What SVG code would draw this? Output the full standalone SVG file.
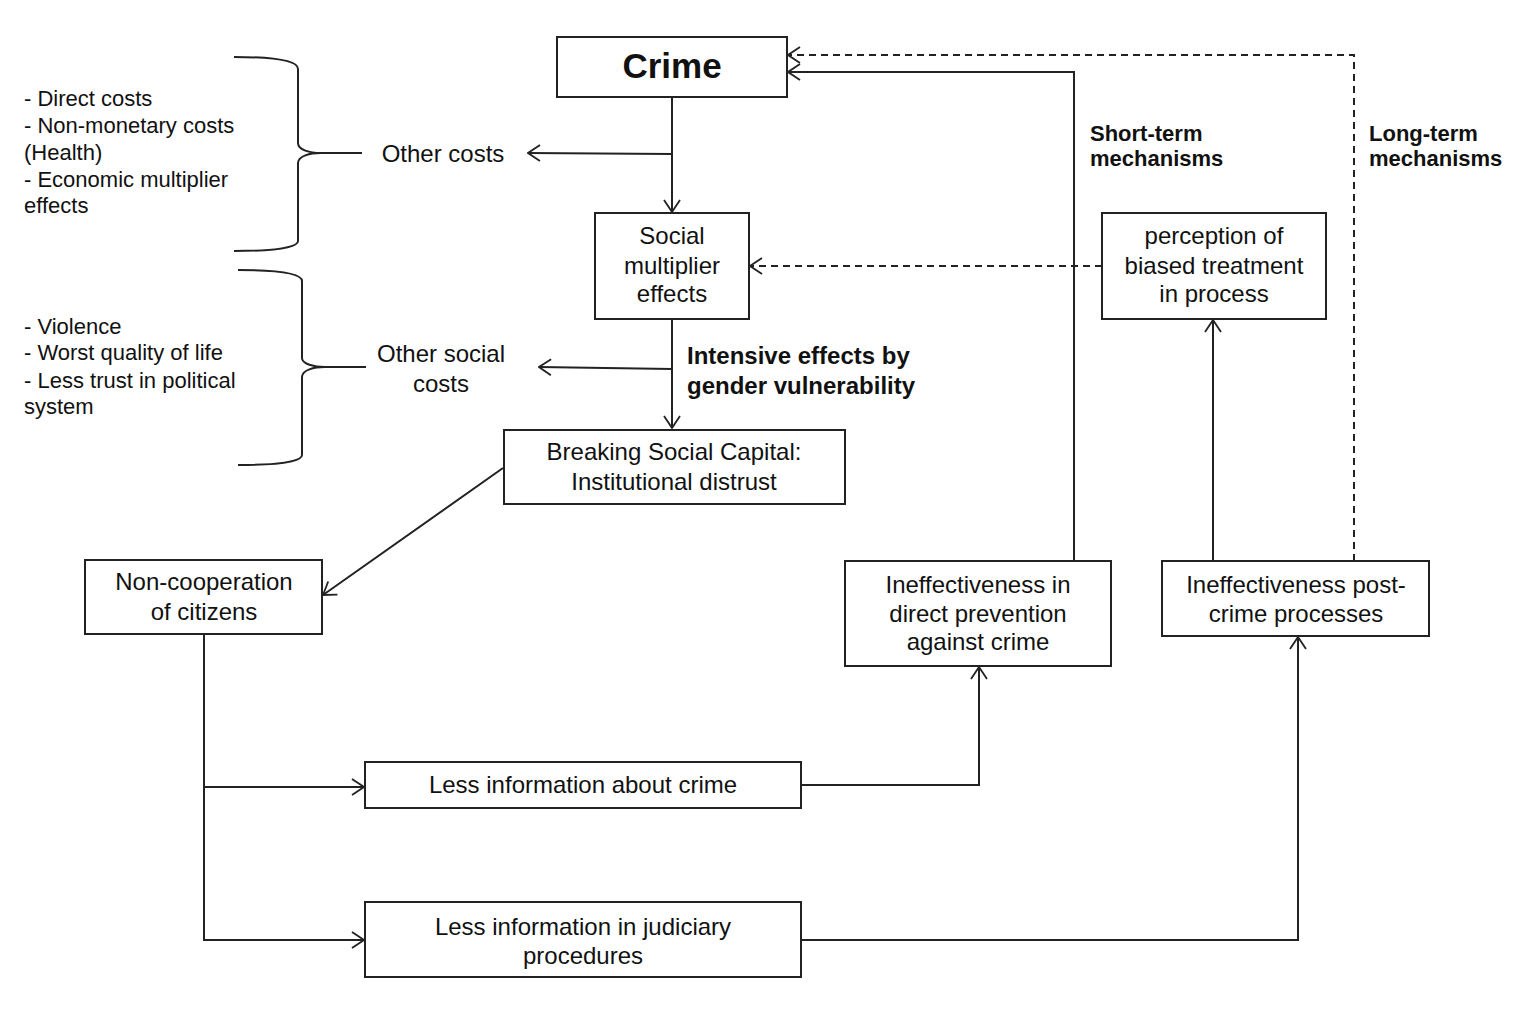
<svg xmlns="http://www.w3.org/2000/svg" width="1540" height="1012" viewBox="0 0 1540 1012">
<style>
.box{fill:#fff;stroke:#222;stroke-width:2}
.t{font-family:"Liberation Sans",Arial,sans-serif;font-size:24px;fill:#111;text-anchor:middle}
.l{font-family:"Liberation Sans",Arial,sans-serif;font-size:22px;fill:#111}
.b{font-family:"Liberation Sans",Arial,sans-serif;font-weight:bold;fill:#111}
.c{fill:none;stroke:#222;stroke-width:2}
.d{fill:none;stroke:#222;stroke-width:2;stroke-dasharray:7 5}
</style>
<defs>
<marker id="arr" viewBox="0 0 14 18" refX="13" refY="9" markerWidth="14" markerHeight="18" markerUnits="userSpaceOnUse" orient="auto">
<path d="M1,1 L13,9 L1,17" fill="none" stroke="#222" stroke-width="1.8"/>
</marker>
</defs>
<rect width="1540" height="1012" fill="#fff"/>

<g id="connectors">
<path class="c" d="M672,97 L672,212" marker-end="url(#arr)"/>
<path class="c" d="M672,154 L528,153" marker-end="url(#arr)"/>
<path class="c" d="M672,319 L672,428" marker-end="url(#arr)"/>
<path class="c" d="M672,369 L539,367" marker-end="url(#arr)"/>
<path class="c" d="M503,468 L323,595" marker-end="url(#arr)"/>
<path class="c" d="M204,634 L204,940 L364,940" marker-end="url(#arr)"/>
<path class="c" d="M204,787 L364,787" marker-end="url(#arr)"/>
<path class="c" d="M801,785 L979,785 L979,667" marker-end="url(#arr)"/>
<path class="c" d="M801,940 L1298,940 L1298,637" marker-end="url(#arr)"/>
<path class="c" d="M1074,561 L1074,72 L788,72" marker-end="url(#arr)"/>
<path class="c" d="M1213,561 L1213,320" marker-end="url(#arr)"/>
<path class="d" d="M1354,561 L1354,55 L788,55" marker-end="url(#arr)"/>
<path class="d" d="M1102,266 L750,266" marker-end="url(#arr)"/>
</g>

<g id="brace-costs">
<path class="c" d="M234,57 C272,57 298,60 298,69 L298,143 C298,150 310,153 321,153 L362,153 M321,153 C310,153 298,156 298,163 L298,241 C298,248 272,251 234,251"/>
<text class="l" x="24" y="106">- Direct costs</text>
<text class="l" x="24" y="133">- Non-monetary costs</text>
<text class="l" x="24" y="160">(Health)</text>
<text class="l" x="24" y="187">- Economic multiplier</text>
<text class="l" x="24" y="213">effects</text>
</g>
<g id="brace-social">
<path class="c" d="M238,270 C276,270 302,273 302,281 L302,358 C302,364 314,367 325,367 L366,367 M325,367 C314,367 302,370 302,377 L302,455 C302,462 276,465 238,465"/>
<text class="l" x="24" y="334">- Violence</text>
<text class="l" x="24" y="360">- Worst quality of life</text>
<text class="l" x="24" y="388">- Less trust in political</text>
<text class="l" x="24" y="414">system</text>
</g>

<g id="other-costs"><text class="t" x="443" y="162">Other costs</text></g>
<g id="other-social-costs"><text class="t" x="441" y="362">Other social</text><text class="t" x="441" y="392">costs</text></g>

<g id="crime"><rect class="box" x="557" y="37" width="230" height="60"/><text class="b" x="672" y="78" font-size="35" text-anchor="middle">Crime</text></g>
<g id="social-multiplier"><rect class="box" x="595" y="213" width="154" height="106"/><text class="t" x="672" y="244">Social</text><text class="t" x="672" y="274">multiplier</text><text class="t" x="672" y="302">effects</text></g>
<g id="intensive-label"><text class="b" x="687" y="364" font-size="24">Intensive effects by</text><text class="b" x="687" y="394" font-size="24">gender vulnerability</text></g>
<g id="breaking"><rect class="box" x="504" y="430" width="341" height="74"/><text class="t" x="674" y="460">Breaking Social Capital:</text><text class="t" x="674" y="490">Institutional distrust</text></g>
<g id="perception"><rect class="box" x="1102" y="213" width="224" height="106"/><text class="t" x="1214" y="244">perception of</text><text class="t" x="1214" y="274">biased treatment</text><text class="t" x="1214" y="302">in process</text></g>
<g id="short-term"><text class="b" x="1090" y="141" font-size="22">Short-term</text><text class="b" x="1090" y="166" font-size="22">mechanisms</text></g>
<g id="long-term"><text class="b" x="1369" y="141" font-size="22">Long-term</text><text class="b" x="1369" y="166" font-size="22">mechanisms</text></g>
<g id="non-cooperation"><rect class="box" x="85" y="560" width="237" height="74"/><text class="t" x="204" y="590">Non-cooperation</text><text class="t" x="204" y="620">of citizens</text></g>
<g id="ineff-direct"><rect class="box" x="845" y="561" width="266" height="105"/><text class="t" x="978" y="593">Ineffectiveness in</text><text class="t" x="978" y="622">direct prevention</text><text class="t" x="978" y="650">against crime</text></g>
<g id="ineff-post"><rect class="box" x="1162" y="561" width="267" height="75"/><text class="t" x="1296" y="593">Ineffectiveness post-</text><text class="t" x="1296" y="622">crime processes</text></g>
<g id="less-info-crime"><rect class="box" x="365" y="762" width="436" height="46"/><text class="t" x="583" y="793">Less information about crime</text></g>
<g id="less-info-judiciary"><rect class="box" x="365" y="902" width="436" height="75"/><text class="t" x="583" y="935">Less information in judiciary</text><text class="t" x="583" y="964">procedures</text></g>
</svg>
